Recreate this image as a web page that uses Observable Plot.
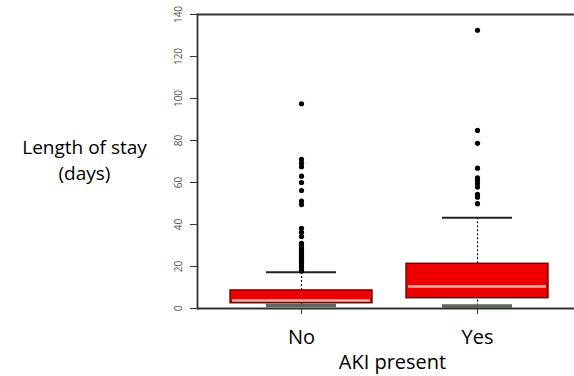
<!DOCTYPE html>
<html>
<head>
<meta charset="utf-8">
<script src="https://cdn.jsdelivr.net/npm/d3@7"></script>
<script src="https://cdn.jsdelivr.net/npm/@observablehq/plot@0.6"></script>
<style>
  html, body { margin: 0; padding: 0; background: #fff; }
  #chart svg { display: block; }
</style>
</head>
<body>
<div id="chart"></div>
<script>
// Categories and box statistics (length of stay, days)
const categories = ["No", "Yes"];
const lowerCap = [1.4, 1.2];
const q1 = [2.5, 4.9];
const median = [3.8, 10.5];
const q3 = [8.6, 21.3];
const upperCap = [17.3, 43.2];

// Outliers
const outliersNo = [97.5, 71, 69.2, 67.5, 63, 60, 56.2, 51.2, 49.5, 38.2, 36.3, 34.3,
  31, 30.3, 29.5, 28.8, 28, 27.3, 26.5, 25.8, 25, 24.3, 23.5, 22.8, 22, 21.3, 20.5, 19.8, 19, 18.3, 17.8];
const outliersYes = [132.5, 84.8, 78.7, 66.8, 62.2, 61, 59.4, 57.8, 54.3, 53, 49.9];

// Axis ticks and labels
const yTicks = [0, 20, 40, 60, 80, 100, 120, 140];
const yLabelLines = ["Length of stay", "(days)"];
const xLabel = "AKI present";

const boxes = categories.map((c, i) => ({
  cat: c, lo: lowerCap[i], q1: q1[i], med: median[i], q3: q3[i], hi: upperCap[i]
}));
const outliers = [
  ...outliersNo.map(v => ({cat: "No", v})),
  ...outliersYes.map(v => ({cat: "Yes", v}))
];

const chart = Plot.plot({
  width: 574,
  height: 376,
  marginLeft: 197,
  marginRight: 0,
  marginTop: 14,
  marginBottom: 68,
  style: {fontFamily: "'Open Sans', sans-serif", background: "#fff", color: "#000"},
  x: {domain: categories, paddingInner: 0.192, paddingOuter: 0.161, align: 0.561, axis: null},
  y: {domain: [0, 140], axis: null},
  marks: [
    // frame lines
    Plot.ruleY([140], {stroke: "#333", strokeWidth: 1.8}),
    Plot.frame({anchor: "left", stroke: "#333", strokeWidth: 1.8}),
    // y axis ticks with rotated labels
    Plot.axisY({ticks: yTicks, tickSize: 7, tickPadding: 9, tickRotate: -90, fontSize: 10,
      color: "#555", stroke: "#333", label: null}),
    // whiskers (dashed)
    Plot.ruleX(boxes, {x: "cat", y1: "q3", y2: "hi", stroke: "#111", strokeWidth: 1.2, strokeDasharray: "2,2"}),
    Plot.ruleX(boxes, {x: "cat", y1: "lo", y2: "q1", stroke: "#111", strokeWidth: 1.2, strokeDasharray: "2,2"}),
    // upper caps
    Plot.tickY(boxes, {x: "cat", y: "hi", stroke: "#222", strokeWidth: 2, insetLeft: 36, insetRight: 36}),
    // lower caps
    Plot.tickY(boxes, {x: "cat", y: "lo", stroke: "#5f675f", strokeWidth: 3.5, insetLeft: 36, insetRight: 36}),
    // boxes
    Plot.barY(boxes, {x: "cat", y1: "q1", y2: "q3", fill: "#ec0000", stroke: "#6a0000", strokeWidth: 1.4}),
    // medians
    Plot.tickY(boxes, {x: "cat", y: "med", stroke: "#f6aaa2", strokeWidth: 2.6, insetLeft: 2, insetRight: 2}),
    // outliers
    Plot.dot(outliers, {x: "cat", y: "v", r: 2.6, fill: "#000", stroke: "none"}),
    // x axis line
    Plot.ruleY([0], {stroke: "#333", strokeWidth: 1.8}),
    // x axis ticks and labels
    Plot.axisX({tickSize: 6, tickPadding: 15, fontSize: 20, color: "#000", stroke: "#333", label: null}),
    // axis titles
    Plot.text([yLabelLines[0]], {frameAnchor: "left", dx: -113, dy: -14, fontSize: 19, textAnchor: "middle", fill: "#000"}),
    Plot.text([yLabelLines[1]], {frameAnchor: "left", dx: -113, dy: 12, fontSize: 19, textAnchor: "middle", fill: "#000"}),
    Plot.text([xLabel], {frameAnchor: "bottom", dx: 6.5, dy: 60, fontSize: 20, textAnchor: "middle", fill: "#000"})
  ]
});
document.getElementById("chart").appendChild(chart);
</script>
</body>
</html>
